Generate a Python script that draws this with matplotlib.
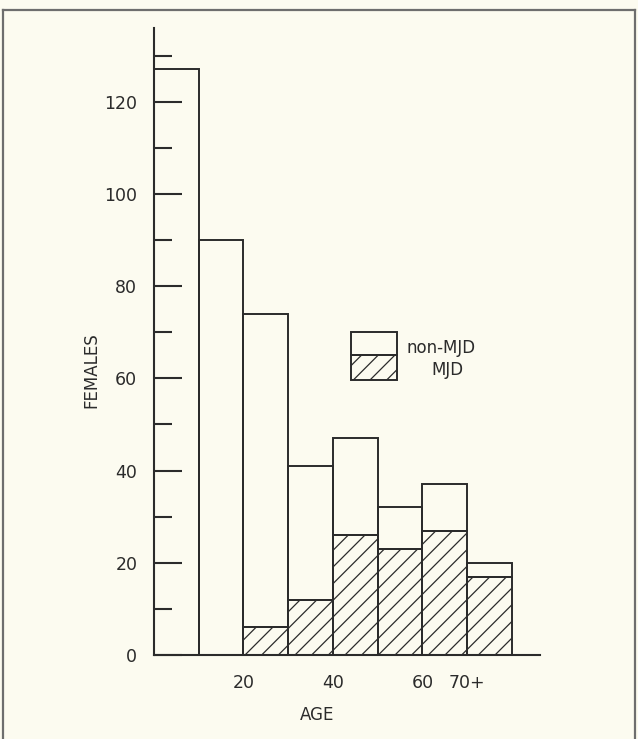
import numpy as np
import matplotlib
matplotlib.use("Agg")
import matplotlib.pyplot as plt
from matplotlib.patches import Rectangle
from matplotlib.lines import Line2D

# age groups (10-year bins, last one is 70+)
age_bins = ["0-9", "10-19", "20-29", "30-39", "40-49", "50-59", "60-69", "70+"]
bin_start = [0, 10, 20, 30, 40, 50, 60, 70]
mjd = np.array([0, 0, 6, 12, 26, 23, 27, 17])
non_mjd = np.array([127, 90, 68, 29, 21, 9, 10, 3])

xtick_pos = [20, 40, 60, 70]
xtick_labels = ["20", "40", "60", "70+"]

BG = "#fcfbf0"
INK = "#2b2b2b"
W, H = 638, 739

plt.rcParams["hatch.linewidth"] = 0.9

fig = plt.figure(figsize=(W / 100, H / 100), dpi=100, facecolor=BG)
ax = fig.add_axes([154 / W, (H - 655) / H, (540 - 154) / W, (655 - 28) / H])
ax.set_facecolor("none")

ax.bar(bin_start, mjd, width=10, align="edge", facecolor="none",
       edgecolor=INK, hatch="//", linewidth=1.4)
ax.bar(bin_start, non_mjd, width=10, bottom=mjd, align="edge",
       facecolor="none", edgecolor=INK, linewidth=1.4)

ax.set_xlim(0, 86.3)
ax.set_ylim(0, 136)
for s in ["top", "right"]:
    ax.spines[s].set_visible(False)
for s in ["left", "bottom"]:
    ax.spines[s].set_color(INK)
    ax.spines[s].set_linewidth(1.5)

ax.set_yticks(np.arange(0, 121, 20))
ax.set_yticks(np.arange(10, 131, 20), minor=True)
ax.tick_params(axis="y", which="major", direction="in", length=20,
               width=1.5, color=INK, labelsize=12.5, labelcolor=INK, pad=12)
ax.tick_params(axis="y", which="minor", direction="in", length=13,
               width=1.5, color=INK)
ax.set_xticks(xtick_pos)
ax.set_xticklabels(xtick_labels)
ax.tick_params(axis="x", length=0, labelsize=12.5, labelcolor=INK, pad=14)

fig.text(91 / W, 1 - 370 / H, "FEMALES", rotation=90, ha="center",
         va="center", fontsize=12, color=INK)
fig.text(317 / W, 1 - 715 / H, "AGE", ha="center", va="center",
         fontsize=12, color=INK)

# legend box drawn by hand (stacked swatch like the original)
def fig_rect(x0, y0, x1, y1, **kw):
    r = Rectangle((x0 / W, 1 - y1 / H), (x1 - x0) / W, (y1 - y0) / H,
                  transform=fig.transFigure, **kw)
    fig.patches.append(r)

fig_rect(351, 332, 397, 355, facecolor="none", edgecolor=INK, linewidth=1.4)
fig_rect(351, 355, 397, 380, facecolor="none", edgecolor=INK, linewidth=1.4,
         hatch="//")
fig.text(406 / W, 1 - 348 / H, "non-MJD", ha="left", va="center",
         fontsize=12, color=INK)
fig.text(447 / W, 1 - 370 / H, "MJD", ha="center", va="center",
         fontsize=12, color=INK)

# page frame
frame = "#6e6e6e"
fig.lines.append(Line2D([3 / W, 3 / W], [0, 1 - 10 / H], transform=fig.transFigure,
                        color=frame, linewidth=1.6))
fig.lines.append(Line2D([3 / W, 635 / W], [1 - 10 / H, 1 - 10 / H],
                        transform=fig.transFigure, color=frame, linewidth=1.6))
fig.lines.append(Line2D([635 / W, 635 / W], [0, 1 - 10 / H], transform=fig.transFigure,
                        color=frame, linewidth=1.6))

fig.savefig("out.png", dpi=100, facecolor=BG)
